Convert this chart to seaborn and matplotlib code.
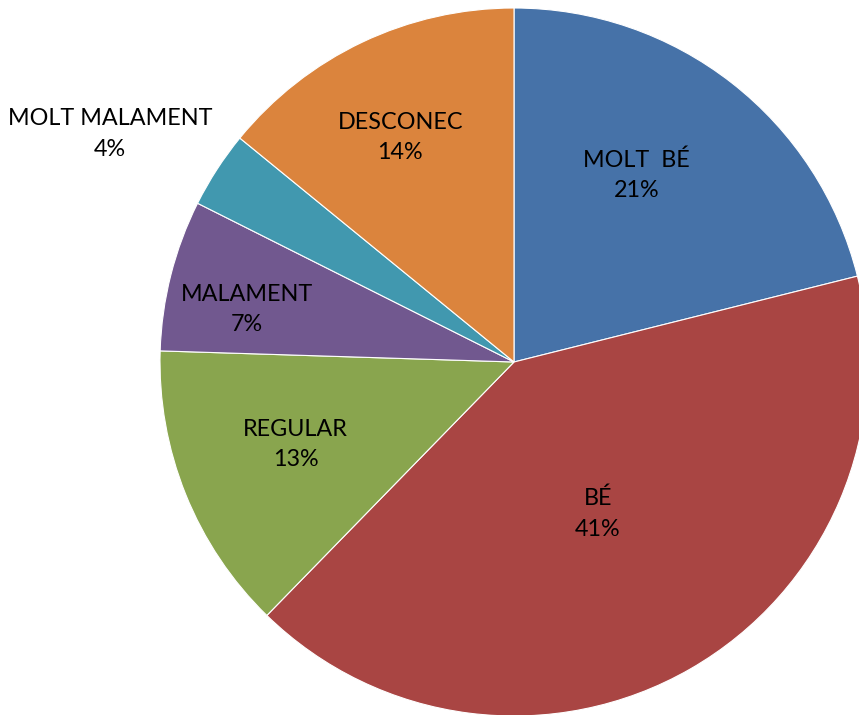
import numpy as np
import matplotlib
matplotlib.use("Agg")
import matplotlib.pyplot as plt
import seaborn as sns

sns.set_theme(style="white")
plt.rcParams["font.family"] = ["Lato", "DejaVu Sans"]

# slice data (clockwise from 12 o'clock)
categories = ["MOLT  BÉ", "BÉ", "REGULAR", "MALAMENT", "MOLT MALAMENT", "DESCONEC"]
values = [21.1, 41.2, 13.2, 6.9, 3.5, 14.1]
pct_labels = ["21%", "41%", "13%", "7%", "4%", "14%"]
colors = ["#4672A8", "#A94543", "#89A54E", "#71588F", "#4198AF", "#DB843D"]
# radial position of each label (fraction of radius)
label_dist = [0.63, 0.49, 0.66, 0.77, 1.31, 0.71]
label_shift = [4.7, -1, -1.2, 3.1, 3.5, 1.5]  # degrees

fig = plt.figure(figsize=(8.59, 7.15), dpi=100)
ax = fig.add_axes([160 / 859, -1 / 715, 708 / 859, 708 / 715])

wedges, _ = ax.pie(values, colors=colors, startangle=90, counterclock=False,
                   wedgeprops=dict(edgecolor="white", linewidth=0.8))
ax.set_xlim(-1, 1)
ax.set_ylim(-1, 1)
ax.set_aspect("equal")
ax.axis("off")

for w, name, pct, d, s in zip(wedges, categories, pct_labels, label_dist, label_shift):
    ang = np.deg2rad((w.theta1 + w.theta2) / 2 + s)
    ax.text(d * np.cos(ang), d * np.sin(ang), f"{name}\n{pct}",
            ha="center", va="center", fontsize=16.8, color="black",
            linespacing=1.55, clip_on=False)

fig.savefig("out.png", dpi=100)
